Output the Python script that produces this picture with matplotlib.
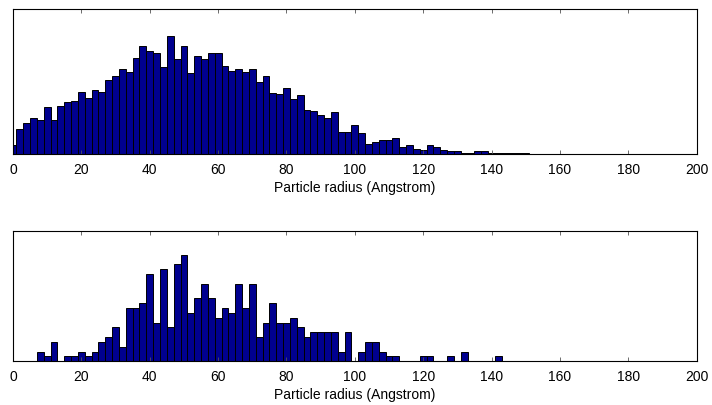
import numpy as np
import matplotlib
matplotlib.use("Agg")
import matplotlib.pyplot as plt

plt.rcParams['font.family'] = ['Liberation Sans', 'DejaVu Sans']

# bin centres (Angstrom)
centers_top = list(range(0, 152, 2))
counts_top = [7, 19, 24, 28, 26, 36, 26, 37, 40, 41,
              48, 43, 49, 48, 57, 60, 65, 63, 74, 83,
              79, 78, 67, 91, 73, 83, 62, 75, 73, 78,
              78, 68, 64, 65, 63, 65, 55, 60, 47, 46,
              51, 42, 45, 34, 33, 30, 28, 32, 17, 17,
              22, 16, 8, 9, 11, 11, 12, 5, 7, 4,
              3, 7, 5, 3, 2, 2, 1, 1, 2, 2,
              1, 1, 1, 1, 1, 1]

centers_bot = list(range(0, 144, 2))
counts_bot = [0, 0, 0, 0, 2, 1, 4, 0, 1, 1,
              2, 1, 2, 4, 5, 7, 3, 11, 11, 12,
              18, 8, 19, 7, 20, 22, 10, 13, 16, 13,
              9, 11, 10, 16, 11, 16, 5, 8, 12, 8,
              8, 9, 7, 5, 6, 6, 6, 6, 2, 6,
              0, 2, 4, 4, 2, 1, 1, 0, 0, 0,
              1, 1, 0, 0, 1, 0, 2, 0, 0, 0,
              0, 1]

xticks = list(range(0, 201, 20))
xlabel = "Particle radius (Angstrom)"

W, H = 712, 406
fig = plt.figure(figsize=(W / 100, H / 100), dpi=100)

def make_axes(rect, centers, counts, ytop):
    ax = fig.add_axes(rect)
    ax.bar(centers, counts, width=2.0, color='#00008F', edgecolor='black',
           linewidth=0.7, align='center')
    ax.set_xlim(0, 200)
    ax.set_ylim(0, ytop)
    ax.set_yticks([])
    ax.set_xticks(xticks)
    ax.set_xticklabels([str(t) for t in xticks], fontsize=10)
    ax.tick_params(axis='x', direction='in', length=3, width=0.6,
                   top=True, pad=5.5, color='#555555')
    ax.set_xlabel(xlabel, fontsize=10, labelpad=3)
    for s in ax.spines.values():
        s.set_linewidth(0.8)
        s.set_color('black')
    return ax

l = 13 / W
w = (696.7 - 13) / W
make_axes([l, 1 - 155 / H, w, (155 - 10) / H], centers_top, counts_top, 111.5)
make_axes([l, 1 - 362.3 / H, w, (362.3 - 232) / H], centers_bot, counts_bot, 26.9)

fig.savefig("out.png", dpi=100)
